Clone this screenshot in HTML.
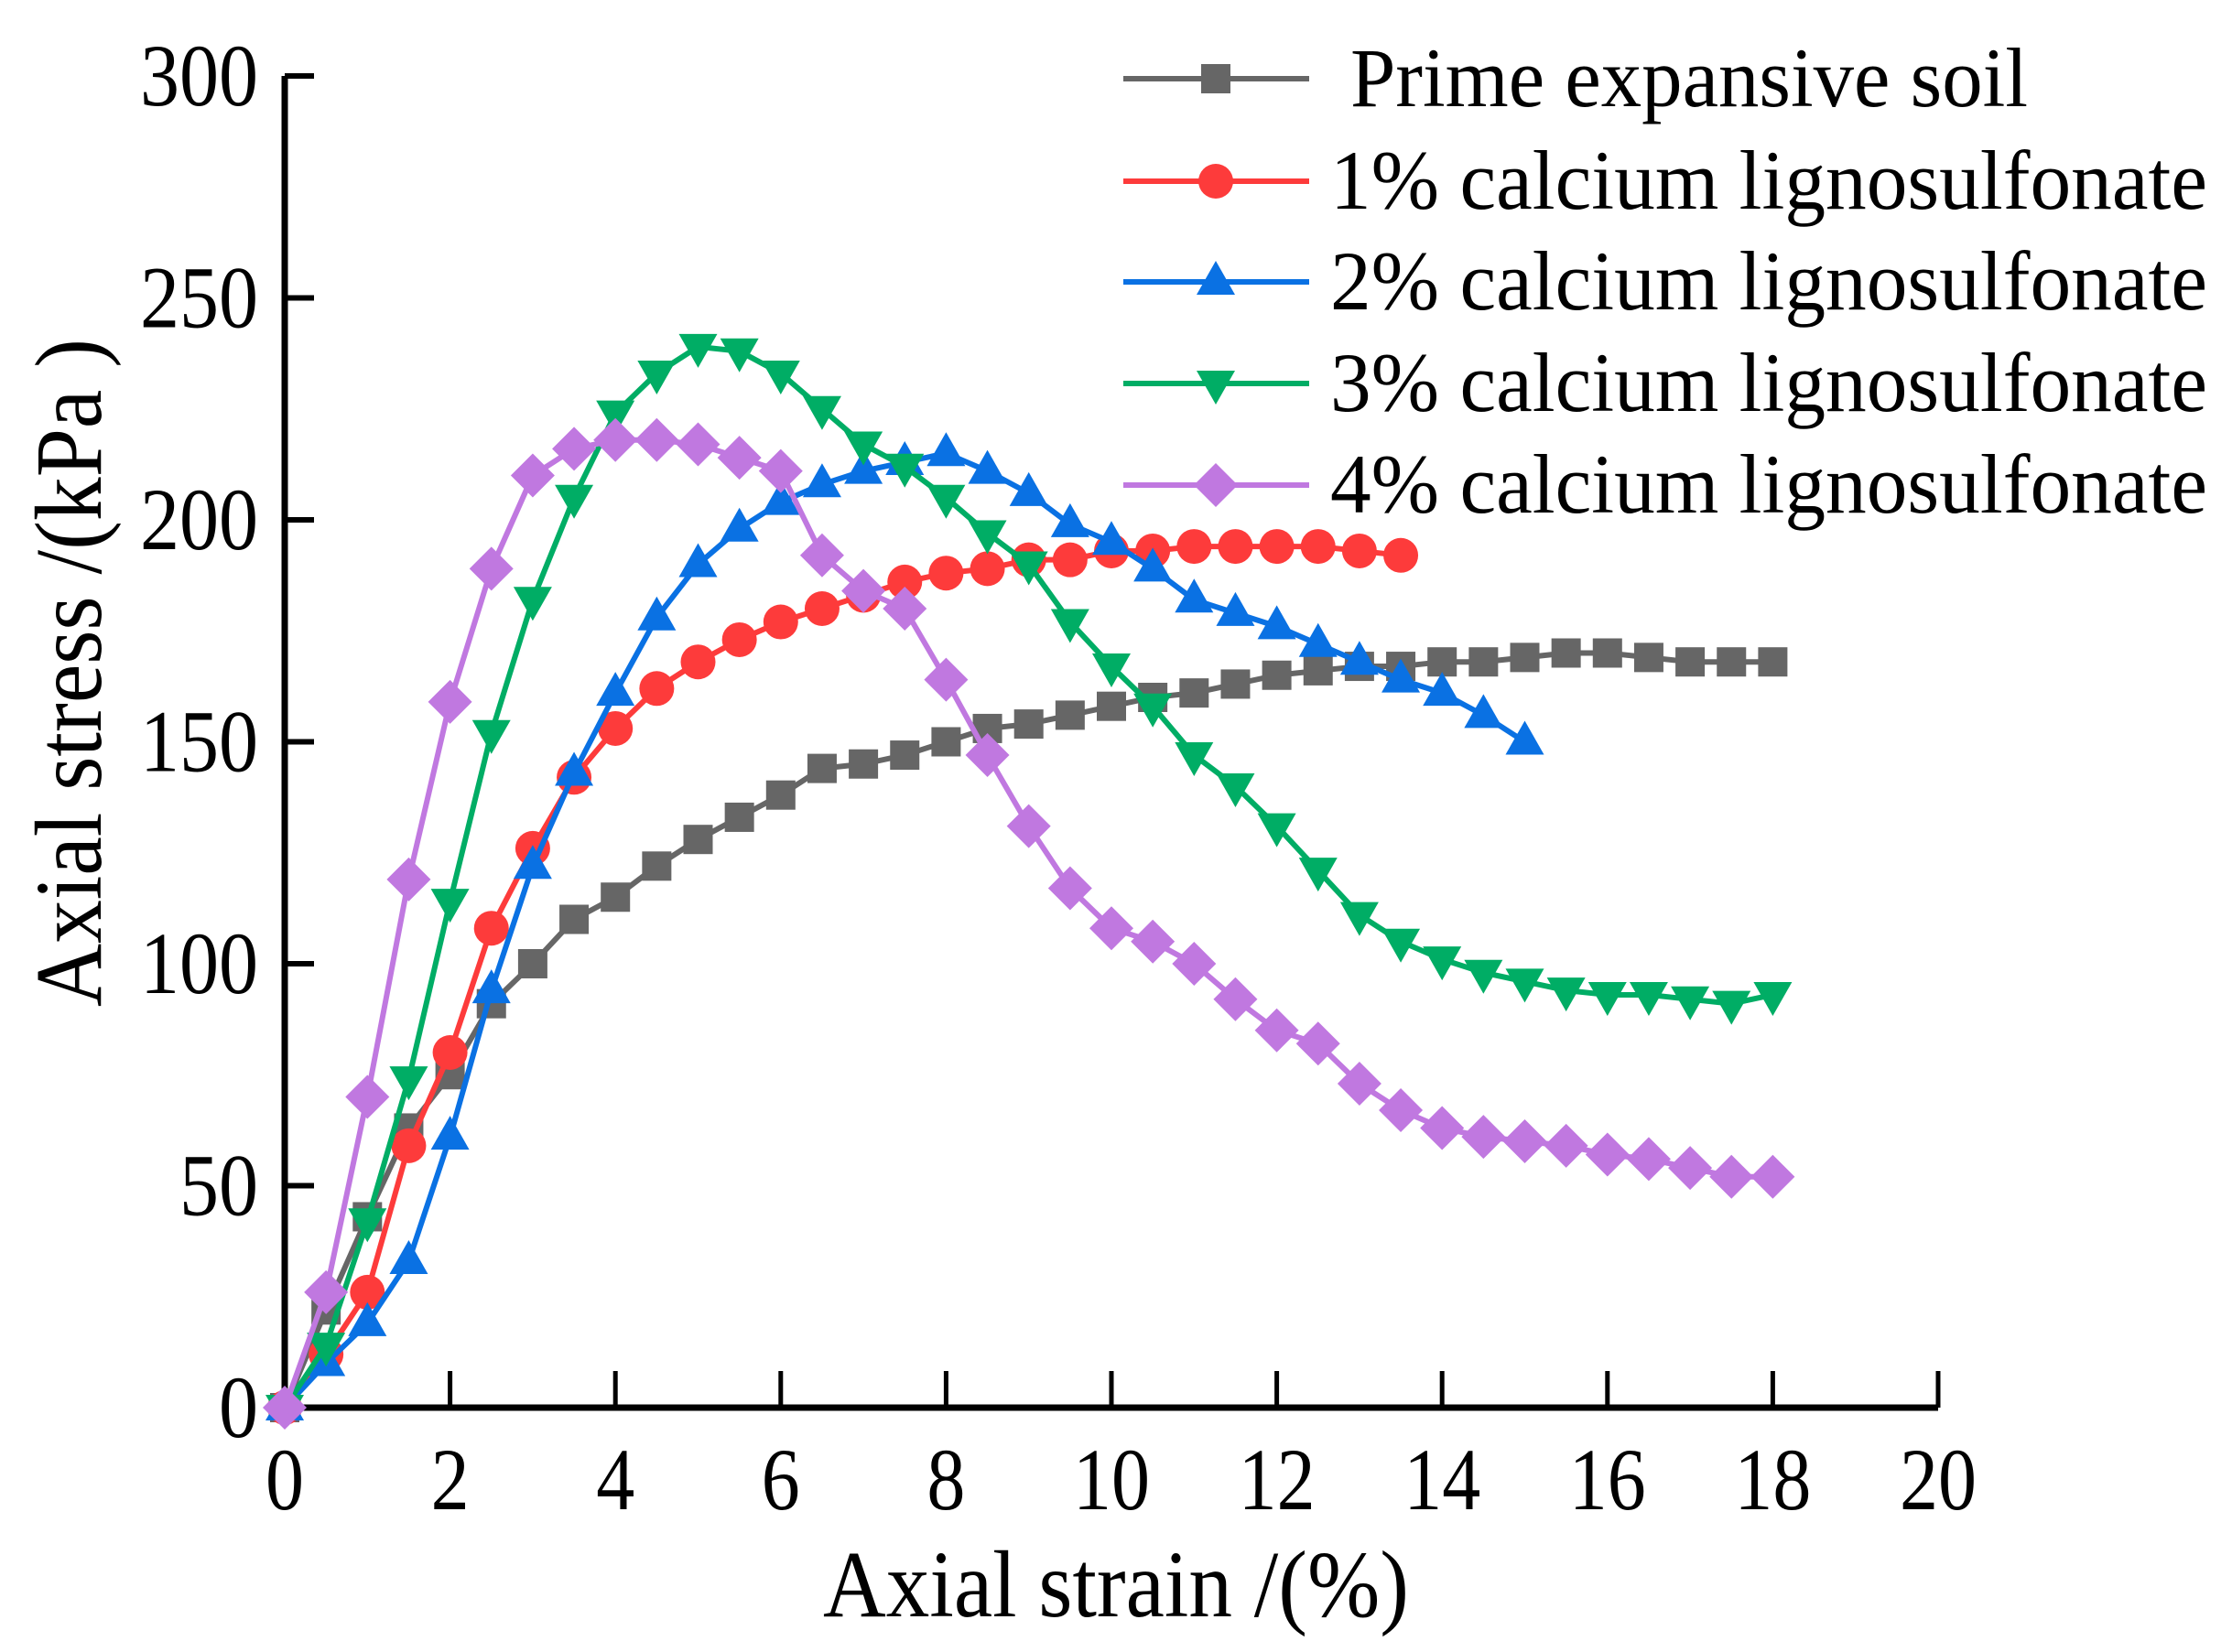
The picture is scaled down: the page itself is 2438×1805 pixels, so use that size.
<!DOCTYPE html>
<html><head><meta charset="utf-8"><style>
html,body{margin:0;padding:0;background:#fff}
svg{display:block}
text{font-family:"Liberation Serif",serif;fill:#000}
</style></head><body>
<svg id="chart" width="2438" height="1805" viewBox="0 0 2438 1805" xmlns="http://www.w3.org/2000/svg">
<g id="axes"></g>
<g id="series"></g>
<g id="legend"></g>
</svg>
<script>
const strainX = [0,0.5,1,1.5,2,2.5,3,3.5,4,4.5,5,5.5,6,6.5,7,7.5,8,8.5,9,9.5,10,10.5,11,11.5,12,12.5,13,13.5,14,14.5,15,15.5,16,16.5,17,17.5,18];
const primeY = [0,22,43,63,75,91,100,110,115,122,128,133,138,144,145,147,150,153,154,156,158,160,161,163,165,166,167,167,168,168,169,170,170,169,168,168,168];
const cl1Y = [0,12,26,59,80,108,126,142,153,162,168,173,177,180,183,186,188,189,191,191,193,193,194,194,194,194,193,192];
const cl2Y = [0,10,19,33,61,94,122,143,161,178,190,198,204,208,211,213,215,211,206,199,195,189,182,179,176,172,168,164,161,156,150];
const cl3Y = [0,14,42,74,114,152,182,205,224,233,239,238,233,225,217,212,205,197,190,177,167,158,147,140,131,121,111,105,101,98,96,94,93,93,92,91,93];
const cl4Y = [0,26,70,119,159,189,210,216,218,218,217,214,211,192,184,180,164,147,131,117,108,105,100,92,85,82,73,67,63,61,60,59,57,56,54,52,52];
const seriesNames = ["Prime expansive soil","1% calcium lignosulfonate","2% calcium lignosulfonate","3% calcium lignosulfonate","4% calcium lignosulfonate"];
const xTicks = [0,2,4,6,8,10,12,14,16,18,20];
const yTicks = [0,50,100,150,200,250,300];

const NS="http://www.w3.org/2000/svg";
const X0=311, X1=2117, Y0=1538, Y1=83;
const sx=v=>X0+(v/20)*(X1-X0);
const sy=v=>Y0-(v/300)*(Y0-Y1);
function mk(tag,attrs,parent){const e=document.createElementNS(NS,tag);for(const k in attrs)e.setAttribute(k,attrs[k]);parent.appendChild(e);return e;}
const axes=document.getElementById('axes');
let e;
e=mk('path',{d:`M${X0},${Y1} V${Y0} H${X1}`,fill:'none',stroke:'#000','stroke-width':7},axes);


xTicks.forEach(t=>{
  let l=mk('line',{x1:sx(t),x2:sx(t),y1:Y0,y2:Y0-40,stroke:'#000','stroke-width':5},axes);
  
  
  const s=String(t);
  let tx=mk('text',{x:sx(t),y:1649,'font-size':96,'text-anchor':'middle',textLength:s.length*42,lengthAdjust:'spacingAndGlyphs'},axes);
  tx.textContent=s;
  
  
});
yTicks.forEach(t=>{
  let l=mk('line',{x1:X0,x2:X0+32,y1:sy(t),y2:sy(t),stroke:'#000','stroke-width':6},axes);
  
  
  const s=String(t);
  let tx=mk('text',{x:282,y:sy(t)+32,'font-size':96,'text-anchor':'end',textLength:s.length*43,lengthAdjust:'spacingAndGlyphs'},axes);
  tx.textContent=s;
  
  
});
e=mk('text',{x:1219,y:1766,'font-size':104,'text-anchor':'middle',textLength:640,lengthAdjust:'spacingAndGlyphs'},axes);
e.textContent='Axial strain /(%)';


e=mk('text',{x:0,y:0,'font-size':104,'text-anchor':'middle',transform:'translate(110,735) rotate(-90)',textLength:730,lengthAdjust:'spacingAndGlyphs'},axes);
e.textContent='Axial stress /(kPa )';



const colors=['#666666','#fd3b3b','#0a71e3','#00ad65','#c078e0'];
const shapes=['square','circle','up','down','diamond'];
const allY=[primeY,cl1Y,cl2Y,cl3Y,cl4Y];
function marker(g,shape,x,y,c){
  let m;
  if(shape==='square')m=mk('rect',{x:x-16,y:y-16,width:32,height:32,fill:c},g);
  else if(shape==='circle')m=mk('circle',{cx:x,cy:y,r:19,fill:c},g);
  else if(shape==='up')m=mk('polygon',{points:`${x},${y-23} ${x+21},${y+14} ${x-21},${y+14}`,fill:c},g);
  else if(shape==='down')m=mk('polygon',{points:`${x},${y+23} ${x+21},${y-14} ${x-21},${y-14}`,fill:c},g);
  else m=mk('polygon',{points:`${x},${y-24} ${x+24},${y} ${x},${y+24} ${x-24},${y}`,fill:c},g);
  return m;
}
const sg=document.getElementById('series');
allY.forEach((ys,i)=>{
  const g=mk('g',{},sg);
  
  
  const pts=ys.map((v,j)=>sx(strainX[j])+','+sy(v)).join(' ');
  let pl=mk('polyline',{points:pts,fill:'none',stroke:colors[i],'stroke-width':6,'stroke-linejoin':'round'},g);
  
  
  ys.forEach((v,j)=>{
    let m=marker(g,shapes[i],sx(strainX[j]),sy(v),colors[i]);
    
    
  });
});
const lg=document.getElementById('legend');
const legY=[86,198,308,419,530];
seriesNames.forEach((n,i)=>{
  const g=mk('g',{},lg);
  
  
  mk('line',{x1:1227,x2:1430,y1:legY[i],y2:legY[i],stroke:colors[i],'stroke-width':6},g);
  marker(g,shapes[i],1328,legY[i],colors[i]);
  const t=mk('text',{x:i===0?1475:1453,y:legY[i]+30,'font-size':92,lengthAdjust:'spacingAndGlyphs'},g);
  t.textContent=n;
  t.setAttribute('textLength',i===0?740:958);
});
</script>
</body></html>
